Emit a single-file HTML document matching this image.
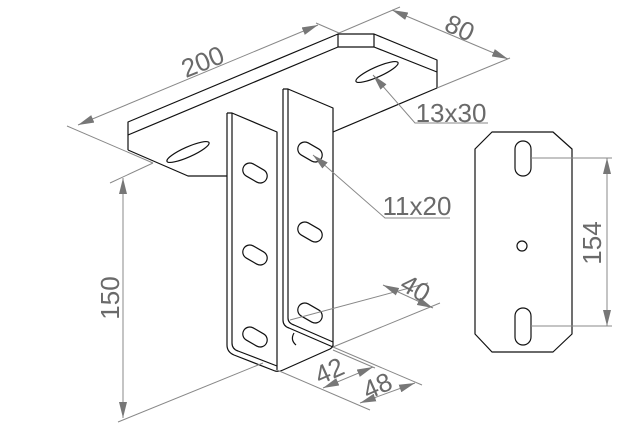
<!DOCTYPE html>
<html><head><meta charset="utf-8"><style>
html,body{margin:0;padding:0;background:#fff}
svg{display:block}
text{font-family:"Liberation Sans",sans-serif;fill:#6a6a6a}
</style></head><body>
<svg width="629" height="438" viewBox="0 0 629 438" xmlns="http://www.w3.org/2000/svg">
<defs>
<marker id="a" viewBox="0 0 16 8" refX="16" refY="4" markerWidth="16" markerHeight="8" markerUnits="userSpaceOnUse" orient="auto-start-reverse">
<path d="M0,0 L16,4 L0,8 z" fill="#777"/></marker>
</defs>
<g fill="none" stroke="#111" stroke-width="1.2" stroke-linejoin="round">
<path d="M128,150 L128,122 L338,34 L374,34 L437,60 L437,88 L333,132"/>
<path d="M128,135 L338,47 L374,47 L437,72"/>
<path d="M338,34 L338,47 M374,34 L374,47"/>
<path d="M128,150 L188,176 L227,176"/>
<ellipse cx="188" cy="152" rx="23" ry="5" transform="rotate(-24 188 152)"/>
<ellipse cx="377" cy="72" rx="23" ry="5" transform="rotate(-24 377 72)"/>
<path d="M227,113 L227,345 Q227,352 234,355 L275,371 Q279,372 283,370 L330,349 Q333,347 333,345"/>
<path d="M232,113 L232,343 Q232,349 238,351 L277,366"/>
<path d="M227,113 L232,113 L277,132 L277,370"/>
<path d="M283,89 L283,320 Q283,326 289,328 L333,347 M288,89 L288,318 Q288,323 294,325 L333,342"/>
<path d="M283,89 L288,89 L333,108 L333,347"/>
<g>
<rect x="242" y="166" width="26" height="14" rx="7" transform="rotate(30 255 173)"/>
<rect x="242" y="248" width="26" height="14" rx="7" transform="rotate(30 255 255)"/>
<rect x="242" y="330" width="26" height="14" rx="7" transform="rotate(30 255 337)"/>
<rect x="297" y="145" width="26" height="14" rx="7" transform="rotate(30 310 152)"/>
<rect x="297" y="225" width="26" height="14" rx="7" transform="rotate(30 310 232)"/>
<rect x="297" y="306" width="26" height="14" rx="7" transform="rotate(30 310 313)"/>
<path d="M294,333 Q290,340 296,345"/>
</g>
<path d="M492,132 L553,132 L572,149 L572,334 L553,352 L492,352 L475,334 L475,149 Z"/>
<rect x="515" y="141" width="16" height="35" rx="8"/>
<rect x="515" y="308" width="16" height="37" rx="8"/>
<circle cx="522" cy="246" r="5"/>
</g>
<g fill="none" stroke="#888" stroke-width="1">
<path d="M67,126 L153,163 M316,23 L339,33"/>
<path d="M78,125 L318,25" marker-start="url(#a)" marker-end="url(#a)"/>
<path d="M339,33 L400,7 M437,88 L510,58"/>
<path d="M392,10 L508,59" marker-start="url(#a)" marker-end="url(#a)"/>
<path d="M373,75 L415,123 L488,123" marker-start="url(#a)"/>
<path d="M313,155 L385,218 L450,218" marker-start="url(#a)"/>
<path d="M110,183 L153,163 M118,422 L263,363"/>
<path d="M123,178 L123,418" marker-start="url(#a)" marker-end="url(#a)"/>
<path d="M290,320 L428,283 M333,347 L440,303"/>
<path d="M383,285 L433,308" marker-start="url(#a)" marker-end="url(#a)"/>
<path d="M277,370 L370,410 M333,347 L422,385 M333,350 L375,368"/>
<path d="M323,388 L373,367" marker-start="url(#a)" marker-end="url(#a)"/>
<path d="M360,403 L415,383" marker-start="url(#a)" marker-end="url(#a)"/>
<path d="M531,158 L612,158 M531,326 L612,326"/>
<path d="M607,158 L607,326" marker-start="url(#a)" marker-end="url(#a)"/>
</g>
<g font-size="26" text-anchor="middle">
<text transform="translate(206,70) rotate(-22)">200</text>
<text transform="translate(456,36) rotate(25)">80</text>
<text x="451" y="122">13x30</text>
<text x="417" y="215">11x20</text>
<text transform="translate(119,298) rotate(-90)">150</text>
<text transform="translate(601,243) rotate(-90)">154</text>
<text transform="translate(411,296) rotate(30)">40</text>
<text transform="translate(333,379) rotate(-24)">42</text>
<text transform="translate(381,394) rotate(-24)">48</text>
</g>
</svg>
</body></html>
